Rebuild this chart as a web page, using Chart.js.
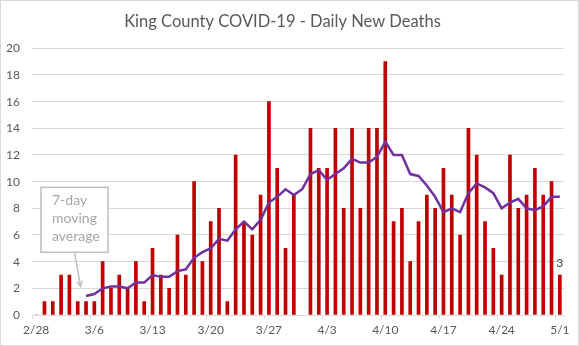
<!DOCTYPE html>
<html>
<head>
<meta charset="utf-8">
<script src="https://cdn.jsdelivr.net/npm/chart.js@4.4.1/dist/chart.umd.min.js"></script>
<style>
  html, body { margin: 0; padding: 0; background: #fff; }
  #wrap { width: 577px; height: 344px; border: 1px solid #d9d9d9; position: relative; }
</style>
</head>
<body>
<div id="wrap"><canvas id="deaths"></canvas></div>
<script>
// King County daily new deaths, 2/28 - 5/1
var days = ['2/28','2/29','3/1','3/2','3/3','3/4','3/5','3/6','3/7','3/8','3/9','3/10',
  '3/11','3/12','3/13','3/14','3/15','3/16','3/17','3/18','3/19','3/20','3/21','3/22',
  '3/23','3/24','3/25','3/26','3/27','3/28','3/29','3/30','3/31','4/1','4/2','4/3',
  '4/4','4/5','4/6','4/7','4/8','4/9','4/10','4/11','4/12','4/13','4/14','4/15',
  '4/16','4/17','4/18','4/19','4/20','4/21','4/22','4/23','4/24','4/25','4/26','4/27',
  '4/28','4/29','4/30','5/1'];

var newDeaths = [0,1,1,3,3,1,1,1,4,2,3,2,
  4,1,5,3,2,6,3,10,4,7,8,1,
  12,7,6,9,16,11,5,9,null,14,11,11,
  14,8,14,8,14,14,19,7,8,4,7,9,
  8,11,9,6,14,12,7,5,3,12,8,9,
  11,9,10,3];

var movingAvg = [null,null,null,null,null,null,1.43,1.57,2.00,2.14,2.14,2.00,
  2.43,2.43,3.00,2.86,2.86,3.29,3.43,4.29,4.71,5.00,5.71,5.57,
  6.43,7.00,6.43,7.14,8.43,8.86,9.43,9.00,9.43,10.57,10.86,10.14,
  10.57,11.00,11.71,11.43,11.43,11.86,13.00,12.00,12.00,10.57,10.43,9.71,
  8.86,7.71,8.00,7.71,9.14,9.86,9.57,9.14,8.00,8.43,8.71,8.00,
  7.86,8.14,8.86,8.86];

var yTicks = [0,2,4,6,8,10,12,14,16,18,20];
var labelEvery = 7;
var noteLines = ['7-day', 'moving', 'average'];

var FONT = 'Lato, "Open Sans", sans-serif';

// callout box + arrow, and the value on the last bar
var extras = {
  id: 'extras',
  afterDatasetsDraw: function(chart) {
    var c = chart.ctx, ca = chart.chartArea;
    var xs = chart.scales.x, ys = chart.scales.y;

    // last day's count above its bar
    var meta = chart.getDatasetMeta(0);
    var last = meta.data[meta.data.length - 1];
    c.save();
    c.fillStyle = '#404040';
    c.font = '12px ' + FONT;
    c.textAlign = 'center';
    c.textBaseline = 'bottom';
    c.fillText(String(newDeaths[newDeaths.length - 1]), last.x, last.y - 6);
    c.restore();

    // callout
    var bx = ca.left + 9, by = ca.top + 139, bw = 67, bh = 65;
    c.save();
    c.fillStyle = '#fff';
    c.fillRect(bx, by, bw, bh);
    c.strokeStyle = '#bfbfbf';
    c.lineWidth = 1.5;
    c.strokeRect(bx, by, bw, bh);
    c.fillStyle = '#a6a6a6';
    c.font = '14px ' + FONT;
    c.textAlign = 'left';
    c.textBaseline = 'alphabetic';
    noteLines.forEach(function(t, i) {
      c.fillText(t, bx + 11, by + 18 + i * 17.7);
    });

    // arrow pointing at the start of the average line
    var tipX = xs.getPixelForValue(6) - 5.5;
    var tipY = ys.getPixelForValue(movingAvg[6]) - 9.5;
    var sx = bx + 33.5, sy = by + bh;
    c.beginPath();
    c.moveTo(sx, sy);
    c.lineTo(tipX, tipY);
    c.stroke();
    var ang = Math.atan2(tipY - sy, tipX - sx);
    c.beginPath();
    c.moveTo(tipX - 6 * Math.cos(ang - 0.45), tipY - 6 * Math.sin(ang - 0.45));
    c.lineTo(tipX, tipY);
    c.lineTo(tipX - 6 * Math.cos(ang + 0.45), tipY - 6 * Math.sin(ang + 0.45));
    c.stroke();
    c.restore();
  }
};

var ctx = document.getElementById('deaths');
var chart = new Chart(ctx, {
  type: 'bar',
  data: {
    labels: days,
    datasets: [
      {
        type: 'bar',
        label: 'New deaths',
        data: newDeaths,
        backgroundColor: '#c00000',
        barThickness: 3,
        order: 1
      },
      {
        type: 'line',
        label: '7-day moving average',
        data: movingAvg,
        borderColor: '#7030a0',
        borderWidth: 2.5,
        pointRadius: 0,
        tension: 0,
        fill: false,
        order: 0
      }
    ]
  },
  options: {
    responsive: true,
    maintainAspectRatio: false,
    animation: false,
    layout: { padding: { left: 0, right: 14, top: 0, bottom: 0 } },
    plugins: {
      legend: { display: false },
      tooltip: { enabled: false },
      title: {
        display: true,
        text: 'King County COVID-19 - Daily New Deaths',
        color: '#595959',
        font: { family: FONT, size: 16.5, weight: 'normal' },
        padding: { top: 11, bottom: 16.5 }
      }
    },
    scales: {
      x: {
        offset: true,
        grid: {
          offset: true,
          drawOnChartArea: false,
          drawTicks: true,
          tickLength: 4,
          color: function(c) { return c.index % labelEvery === 0 ? '#d9d9d9' : 'rgba(0,0,0,0)'; }
        },
        border: { color: '#d9d9d9' },
        ticks: {
          autoSkip: false,
          maxRotation: 0,
          padding: 4,
          color: '#595959',
          font: { family: FONT, size: 12 },
          callback: function(v, i) { return i % labelEvery === 0 ? days[i] : ''; }
        },
        afterFit: function(s) { s.height = 30; }
      },
      y: {
        min: yTicks[0],
        max: yTicks[yTicks.length - 1],
        afterBuildTicks: function(s) { s.ticks = yTicks.map(function(v) { return { value: v }; }); },
        grid: { color: '#d9d9d9', drawTicks: false },
        border: { display: false },
        ticks: {
          padding: 12,
          color: '#595959',
          font: { family: FONT, size: 12 }
        },
        afterFit: function(s) { s.width = 31; }
      }
    }
  },
  plugins: [extras]
});
</script>
</body>
</html>
